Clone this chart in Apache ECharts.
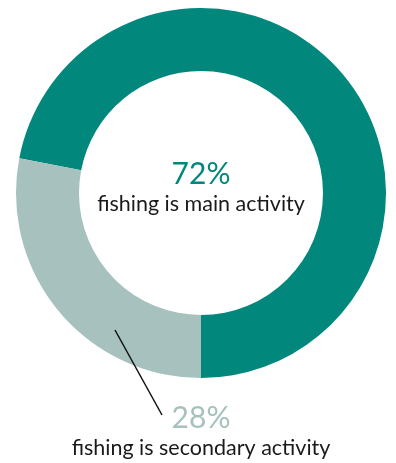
<!DOCTYPE html>
<html>
<head>
<meta charset="utf-8">
<script src="https://cdn.jsdelivr.net/npm/echarts@6/dist/echarts.min.js"></script>
<style>
  html, body { margin: 0; padding: 0; background: #fff; }
  #chart { width: 396px; height: 463px; }
</style>
</head>
<body>
<div id="chart"></div>
<script>
// data
var names = ['fishing is main activity', 'fishing is secondary activity'];
var values = [72, 28];
var colors = ['#01877b', '#a6c1be'];

var chart = echarts.init(document.getElementById('chart'));

// text blocks: [percent y, name y] for each slice
var labelPos = [[174, 204], [418, 448]];

var graphics = [];
values.forEach(function (v, i) {
    graphics.push({
        type: 'text', x: 201, y: labelPos[i][0], z: 100,
        style: {
            text: v + '%', fill: colors[i], font: '30px Lato',
            align: 'center', verticalAlign: 'middle'
        }
    });
    graphics.push({
        type: 'text', x: 201, y: labelPos[i][1], z: 100,
        style: {
            text: names[i], fill: '#1a1a1a', font: '21.5px Lato',
            align: 'center', verticalAlign: 'middle'
        }
    });
});
// leader line from the light slice to its label
graphics.push({
    type: 'line', z: 100,
    shape: { x1: 115, y1: 330, x2: 162, y2: 415 },
    style: { stroke: '#111', lineWidth: 1.5 }
});

chart.setOption({
    animation: false,
    graphic: graphics,
    series: [{
        type: 'pie',
        center: [201, 193],
        radius: [122, 185],
        startAngle: 169.2,
        clockwise: true,
        silent: true,
        label: { show: false },
        labelLine: { show: false },
        data: values.map(function (v, i) {
            return { name: names[i], value: v, itemStyle: { color: colors[i] } };
        })
    }]
});
</script>
</body>
</html>
